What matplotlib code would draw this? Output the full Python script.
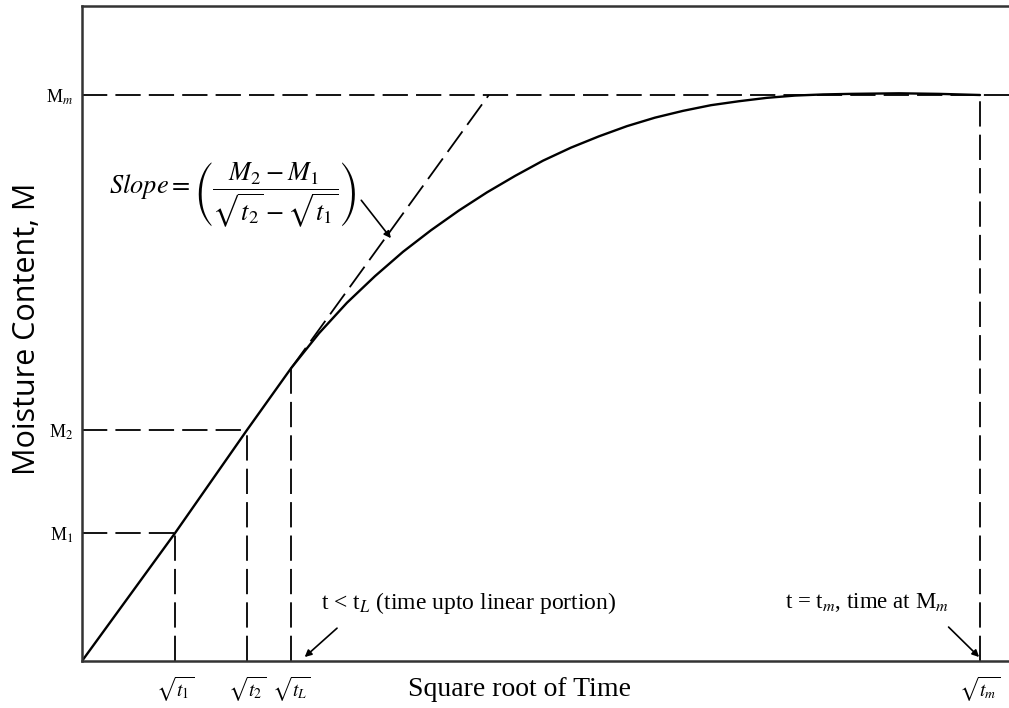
import matplotlib
matplotlib.use("Agg")
import matplotlib.pyplot as plt

plt.rcParams['font.family'] = ['Liberation Serif', 'DejaVu Serif']
plt.rcParams['mathtext.fontset'] = 'stix'

# Sorption curve: moisture content vs square root of time (Mm normalised to 1)
sqrt_t = [0.0, 1.036, 1.837, 2.327, 2.639, 2.951, 3.263, 3.575, 3.886, 4.198,
          4.510, 4.822, 5.134, 5.445, 5.757, 6.069, 6.381, 6.693, 7.004, 7.316,
          7.628, 7.940, 8.252, 8.563, 9.098, 9.543, 10.0]
moisture = [0.0, 0.226, 0.408, 0.517, 0.579, 0.633, 0.680, 0.723, 0.761, 0.796,
            0.828, 0.857, 0.884, 0.907, 0.927, 0.945, 0.960, 0.972, 0.982, 0.989,
            0.995, 0.999, 1.001, 1.002, 1.003, 1.002, 1.0]

# Reference points
t1, t2, tL, tm = 1.036, 1.837, 2.327, 10.0
M1, M2, ML, Mm = 0.226, 0.408, 0.517, 1.0
# Tangent to the initial linear portion
tangent_x = [tL, 4.53]
tangent_y = [ML, Mm]

x_ticks = [t1, t2, tL, tm]
x_tick_labels = [r'$\sqrt{t_1}$', r'$\sqrt{t_2}$', r'$\sqrt{t_L}$', r'$\sqrt{t_m}$']
y_ticks = [M1, M2, Mm]
y_tick_labels = [r'M$_1$', r'M$_2$', r'M$_m$']

fig = plt.figure(figsize=(10.09, 7.08), dpi=100)
ax = fig.add_axes([82 / 1009, 47 / 708, 927 / 1009, 655 / 708])
x_max = 927 / 89.8
ax.set_xlim(0, x_max)
ax.set_ylim(0, 655 / 566)

dash = dict(color='black', lw=1.3, dashes=(14, 4.5))

# guide lines
ax.plot([0, t1], [M1, M1], **dash)
ax.plot([t1, t1], [0, M1], **dash)
ax.plot([0, t2], [M2, M2], **dash)
ax.plot([t2, t2], [0, M2], **dash)
ax.plot([tL, tL], [0, ML], **dash)
ax.plot([0, x_max], [Mm, Mm], **dash)
ax.plot([tm, tm], [0, Mm], **dash)
ax.plot(tangent_x, tangent_y, **dash)

# curve
ax.plot(sqrt_t, moisture, color='black', lw=1.7, solid_capstyle='round',
        solid_joinstyle='round')

for side in ('left', 'bottom', 'top'):
    ax.spines[side].set_linewidth(1.8)
    ax.spines[side].set_color('#333333')
ax.spines['right'].set_visible(False)

ax.set_xticks(x_ticks)
ax.set_xticklabels(x_tick_labels, fontsize=14)
ax.set_yticks(y_ticks)
ax.set_yticklabels(y_tick_labels, fontsize=13)
ax.tick_params(axis='both', length=0, pad=6)
ax.tick_params(axis='x', pad=10)

fig.text(520 / 1009, 1 - 689 / 708, 'Square root of Time', fontsize=20,
         ha='center', va='center')
fig.text(27 / 1009, 1 - 329 / 708, 'Moisture Content, M', fontsize=22,
         ha='center', va='center', rotation=90, family=['Open Sans', 'DejaVu Sans'])

arrow = dict(arrowstyle='-|>', color='black', lw=1.2, shrinkA=0, shrinkB=0,
             mutation_scale=10)

# slope annotation
ax.text(0.30, 0.823,
        r'$Slope = \left(\dfrac{M_2 - M_1}{\sqrt{t_2} - \sqrt{t_1}}\right)$',
        fontsize=19, ha='left', va='center')
ax.annotate('', xy=(3.44, 0.747), xytext=(3.11, 0.814), arrowprops=arrow)

ax.text(2.66, 0.103, r't < t$_L$ (time upto linear portion)', fontsize=17,
        ha='left', va='center')
ax.annotate('', xy=(2.48, 0.007), xytext=(2.84, 0.058), arrowprops=arrow)

ax.text(8.74, 0.103, r't = t$_m$, time at M$_m$', fontsize=16.5,
        ha='center', va='center')
ax.annotate('', xy=(9.99, 0.007), xytext=(9.65, 0.060), arrowprops=arrow)

fig.savefig('out.png', dpi=100)
